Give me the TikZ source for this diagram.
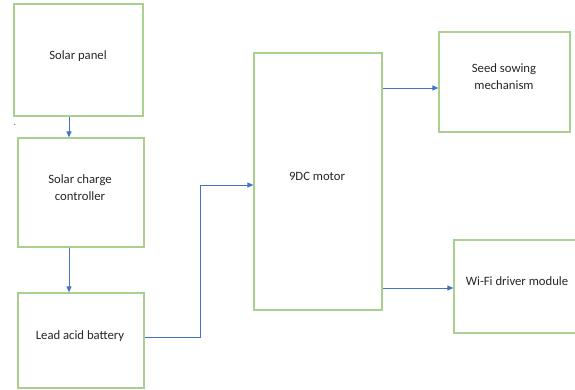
\documentclass[tikz,border=0pt]{standalone}
\usepackage{fontspec}
\setmainfont{Carlito}
\usetikzlibrary{arrows.meta}
\definecolor{boxgreen}{RGB}{169,208,142}
\definecolor{arrowblue}{RGB}{68,114,196}
\definecolor{txt}{RGB}{38,38,38}
\begin{document}
\begin{tikzpicture}[x=1pt,y=-1pt,
  blk/.style={draw=boxgreen,line width=1.2pt,rectangle,inner sep=0pt},
  lbl/.style={font=\fontsize{12.7}{17}\selectfont,text=txt,align=center,inner sep=0pt},
  conn/.style={draw=arrowblue,line width=0.9pt,-{Triangle[length=6pt,width=5pt]}},
  wire/.style={draw=arrowblue,line width=0.9pt}]
\useasboundingbox (0,0) rectangle (575,389);
% boxes
\node[blk,minimum width=129pt,minimum height=112pt] (sp) at (78.5,60) {};
\node[blk,minimum width=126pt,minimum height=109pt] (cc) at (81,192.5) {};
\node[blk,minimum width=126pt,minimum height=95pt] (bat) at (81,340.5) {};
\node[blk,minimum width=128pt,minimum height=257pt] (mot) at (318,181.5) {};
\node[blk,minimum width=131pt,minimum height=100pt] (seed) at (504.5,82) {};
\node[blk,minimum width=126pt,minimum height=93pt] (wifi) at (517,286.5) {};
% labels
\node[lbl] (tsp) at (78,56) {Solar panel};
\node[lbl] (tcc) at (80,188) {Solar charge\\controller};
\node[lbl] (tbat) at (80,336) {Lead acid battery};
\node[lbl] (tmot) at (317,176) {9DC motor};
\node[lbl] (tseed) at (504,77) {Seed sowing\\mechanism};
\node[lbl] (twifi) at (517,281) {Wi-Fi driver module};
\node[lbl,font=\fontsize{8}{8}\selectfont] (dot) at (15,125) {.};
% connectors
\draw[conn] (sp.south -| 69,0) -- (cc.north -| 69,0);
\draw[conn] (cc.south -| 69,0) -- (bat.north -| 69,0);
\coordinate (b1) at (200,337);
\coordinate (b2) at (200,185);
\draw[wire] (bat.east |- b1) -- (b1) -- (b2);
\draw[conn] (b2) -- (mot.west |- b2);
\coordinate (m1) at (382,88);
\coordinate (m2) at (382,288);
\draw[conn] (mot.east |- m1) -- (seed.west |- m1);
\draw[conn] (mot.east |- m2) -- (wifi.west |- m2);
\end{tikzpicture}
\end{document}
